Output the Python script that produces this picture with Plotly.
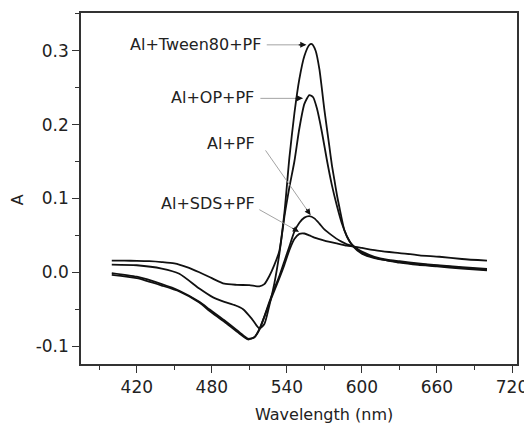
import plotly.graph_objects as go

# absorption spectra (wavelength nm, absorbance A)
wl_tween = [400, 410, 420, 430, 440, 450, 460, 470, 480, 490, 500, 510, 518, 522, 526, 530, 534,
            538, 542, 546, 550, 554, 558, 560, 563, 566, 570, 574, 576, 578, 580, 582, 586, 590,
            593, 600, 610, 620, 630, 645, 660, 680, 700]
a_tween = [0.0157, 0.0157, 0.0155, 0.015, 0.0138, 0.012, 0.007, 0.0, -0.008, -0.0155, -0.017,
           -0.0175, -0.019, -0.016, -0.005, 0.010, 0.029, 0.08, 0.155, 0.215, 0.262, 0.293, 0.308,
           0.309, 0.300, 0.275, 0.22, 0.17, 0.145, 0.125, 0.105, 0.088, 0.057, 0.042, 0.036, 0.026,
           0.02, 0.016, 0.014, 0.011, 0.009, 0.006, 0.0035]

wl_op = [400, 420, 440, 454, 470, 481, 490, 499, 505, 512, 518, 522, 526, 530, 534, 538, 542, 546,
         550, 554, 558, 561, 564, 568, 572, 576, 580, 584, 588, 593, 600, 610, 620, 630, 645, 660,
         680, 700]
a_op = [0.0104, 0.0095, 0.005, -0.002, -0.022, -0.034, -0.040, -0.045, -0.050, -0.063, -0.076,
        -0.070, -0.045, -0.015, 0.025, 0.075, 0.115, 0.15, 0.195, 0.228, 0.240, 0.237, 0.222, 0.19,
        0.152, 0.118, 0.09, 0.066, 0.049, 0.035, 0.025, 0.019, 0.016, 0.013, 0.010, 0.008, 0.005,
        0.0025]

wl_pf = [400, 420, 440, 454, 470, 478, 490, 502, 509, 514, 518, 522, 526, 530, 534, 538, 542, 546,
         550, 554, 558, 562, 566, 570, 576, 582, 588, 593, 600, 610, 620, 630, 645, 660, 680, 700]
a_pf = [-0.001, -0.006, -0.016, -0.025, -0.040, -0.050, -0.065, -0.081, -0.090, -0.088, -0.078,
        -0.06, -0.04, -0.022, -0.005, 0.015, 0.035, 0.055, 0.067, 0.074, 0.076, 0.073, 0.066, 0.058,
        0.05, 0.043, 0.038, 0.035, 0.028, 0.021, 0.017, 0.015, 0.012, 0.0095, 0.007, 0.0046]

wl_sds = [400, 420, 440, 454, 470, 478, 490, 502, 509, 514, 518, 522, 526, 530, 534, 538, 542, 546,
          550, 554, 558, 562, 570, 580, 588, 593, 600, 614, 630, 646, 662, 680, 700]
a_sds = [-0.0035, -0.008, -0.018, -0.026, -0.041, -0.052, -0.067, -0.083, -0.091, -0.088, -0.077,
         -0.06, -0.042, -0.025, -0.008, 0.01, 0.030, 0.045, 0.052, 0.0525, 0.050, 0.047, 0.043,
         0.039, 0.036, 0.035, 0.033, 0.029, 0.026, 0.023, 0.021, 0.018, 0.0157]

series = [
    ("Al+Tween80+PF", wl_tween, a_tween),
    ("Al+OP+PF", wl_op, a_op),
    ("Al+PF", wl_pf, a_pf),
    ("Al+SDS+PF", wl_sds, a_sds),
]

x_ticks = [420, 480, 540, 600, 660, 720]
y_ticks = [-0.1, 0.0, 0.1, 0.2, 0.3]
y_ticktext = ["-0.1", "0.0", "0.1", "0.2", "0.3"]

fig = go.Figure()
for name, x, y in series:
    fig.add_trace(go.Scatter(x=x, y=y, mode="lines", name=name,
                             line=dict(color="#111", width=1.8, shape="spline", smoothing=0.6)))

font = dict(family="DejaVu Sans", size=16, color="#222")
tickfont = dict(family="DejaVu Sans", size=17, color="#222")

# label text, arrow tip (data), arrow tail offset (px)
labels = [
    ("Al+Tween80+PF", 521.0, 0.3083, 555.5, 0.308, -41, 0),
    ("Al+OP+PF", 515.4, 0.2366, 552.8, 0.2355, -44, 0),
    ("Al+PF", 516.0, 0.1738, 558.9, 0.0777, -46, -66),
    ("Al+SDS+PF", 516.0, 0.093, 549.6, 0.0548, -41, -23),
]
for text, tx, ty, px, py, ax, ay in labels:
    fig.add_annotation(x=tx, y=ty, text=text, showarrow=False, xanchor="right",
                       yanchor="middle", font=font)
    # thin grey leader line
    fig.add_annotation(x=px, y=py, ax=ax, ay=ay, text="", showarrow=True,
                       arrowhead=0, arrowwidth=0.9, arrowcolor="#999")
    # small black head
    n = (ax ** 2 + ay ** 2) ** 0.5
    fig.add_annotation(x=px, y=py, ax=ax * 9 / n, ay=ay * 9 / n, text="", showarrow=True,
                       arrowhead=2, arrowsize=1, arrowwidth=1.2, arrowcolor="#111")

# page body has an 8px margin, so everything is laid out 8px up/left
fig.add_annotation(text="Wavelength (nm)", xref="paper", yref="paper", x=0.557, y=-0.145,
                   showarrow=False, font=font, yanchor="middle")
fig.add_annotation(text="A", xref="paper", yref="paper", x=-0.147, y=0.469, textangle=-90,
                   showarrow=False, font=font, xanchor="center", yanchor="middle")

axis_common = dict(showline=True, mirror=True, linecolor="#333", linewidth=1.6,
                   showgrid=False, zeroline=False, ticks="outside", ticklen=7,
                   tickwidth=1.3, tickcolor="#333", tickfont=tickfont)

fig.update_xaxes(range=[375.4, 724], tickvals=x_ticks,
                 minor=dict(ticks="outside", ticklen=4, tickwidth=1.3, tickcolor="#333",
                            tick0=0, dtick=30),
                 **axis_common)
fig.update_yaxes(range=[-0.1242, 0.3511], tickvals=y_ticks, ticktext=y_ticktext,
                 minor=dict(ticks="outside", ticklen=4, tickwidth=1.3, tickcolor="#333",
                            tick0=0, dtick=0.05),
                 **axis_common)

fig.update_layout(width=532, height=425, margin=dict(l=73, r=23, t=3, b=69),
                  plot_bgcolor="white", paper_bgcolor="white", showlegend=False, font=font)

fig.write_html("out.html")
